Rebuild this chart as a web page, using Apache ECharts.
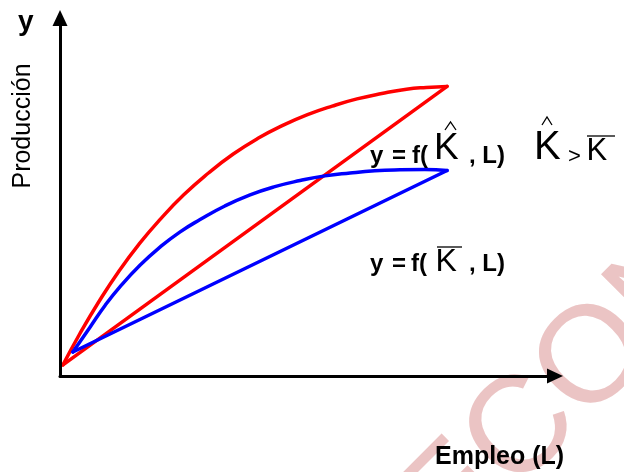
<!DOCTYPE html>
<html>
<head>
<meta charset="utf-8">
<script src="https://cdn.jsdelivr.net/npm/echarts@6/dist/echarts.min.js"></script>
<style>
  html, body { margin: 0; padding: 0; background: #fff; }
  #chart { width: 624px; height: 472px; }
</style>
</head>
<body>
<div id="chart"></div>
<script>
// Funcion de produccion: curvas y rectas (L, y)
var curvaKhat = [[0.6, 3.1], [4, 11.8], [8, 21.1], [12, 29.5], [16, 36.9], [20, 43.4], [25, 50.6],
                 [30, 56.7], [35, 62.0], [40, 66.4], [45, 70.0], [50, 73.0], [55, 75.4], [60, 77.4],
                 [65, 78.9], [70, 80.1], [74, 80.6], [78.2, 80.9]];
var rectaKhat = [[0.6, 3.1], [78.2, 80.9]];
var curvaKbar = [[2.6, 6.7], [6.1, 13.7], [9.1, 19.7], [12.1, 24.9], [16.2, 31.0], [20.2, 36.0],
                 [24.2, 40.2], [28.3, 43.7], [33.3, 47.5], [38.4, 50.6], [43.4, 52.9], [48.5, 54.6],
                 [53.5, 55.9], [58.6, 56.7], [63.6, 57.3], [68.7, 57.6], [73.7, 57.7], [78.2, 57.4]];
var rectaKbar = [[2.6, 6.7], [78.2, 57.4]];

var FONT = '"Liberation Sans", Arial, sans-serif';

// texto posicionado por su linea base
function texto(str, x, base, size, bold) {
	return {
		type: 'text', x: x, y: base - size * 0.35, z: 10,
		style: {
			text: str,
			font: (bold ? 'bold ' : '') + size + 'px ' + FONT,
			fill: '#000',
			align: 'left',
			verticalAlign: 'middle'
		}
	};
}

function trazo(points) {
	return { type: 'polyline', z: 10, shape: { points: points },
		style: { stroke: '#000', lineWidth: 1.3, fill: null } };
}

var chart = echarts.init(document.getElementById('chart'));

var ejeComun = {
	type: 'value', min: 0, max: 100, z: 5,
	axisLine: { show: true, symbol: ['none', 'triangle'], symbolSize: [15, 16],
		lineStyle: { color: '#000', width: 3 } },
	axisTick: { show: false }, axisLabel: { show: false }, splitLine: { show: false }
};

function serie(data, color, smooth) {
	return {
		type: 'line', data: data, smooth: smooth, symbol: 'none', z: 3,
		lineStyle: { color: color, width: 3.5, cap: 'round', join: 'round' }
	};
}

chart.setOption({
	animation: false,
	backgroundColor: '#fff',
	grid: { left: 60, right: 69, top: 18, bottom: 96 },
	xAxis: ejeComun,
	yAxis: ejeComun,
	series: [
		serie(curvaKhat, '#ff0000', true),
		serie(rectaKhat, '#ff0000', false),
		serie(curvaKbar, '#0000ff', true),
		serie(rectaKbar, '#0000ff', false)
	],
	graphic: [
		// marca de agua
		{ type: 'text', x: 423, y: 532, rotation: Math.PI / 4, z: 0,
		  style: { text: 'ECONOMIA', font: '137px ' + FONT, fill: '#ebc4c4', align: 'left', verticalAlign: 'middle' } },
		// ejes
		texto('y', 18, 32.5, 28, true),
		{ type: 'text', x: 23, y: 126, rotation: Math.PI / 2, z: 10,
		  style: { text: 'Producción', font: '25px ' + FONT, fill: '#000', align: 'center', verticalAlign: 'middle' } },
		texto('Empleo (L)', 435, 466, 25, true),
		// y = f(K^, L)
		texto('y', 370, 165, 24, true),
		texto('=', 392, 165, 24, true),
		texto('f(', 412, 165, 24, true),
		texto('K', 434, 162, 37, false),
		trazo([[445, 130], [450.5, 122], [456, 130]]),
		texto(', L)', 469, 165, 24, true),
		// K^ > Kbar
		texto('K', 534, 162, 40, false),
		trazo([[542, 125], [547, 117], [552, 125]]),
		texto('>', 568, 164.5, 22, false),
		texto('K', 586.5, 162, 31, false),
		trazo([[587, 136], [615, 136]]),
		// y = f(Kbar, L)
		texto('y', 370, 273, 24, true),
		texto('=', 392, 273, 24, true),
		texto('f(', 411, 273, 24, true),
		texto('K', 435.5, 273, 32, false),
		trazo([[437, 247], [462, 247]]),
		texto(', L)', 469, 273, 24, true)
	]
});
</script>
</body>
</html>
